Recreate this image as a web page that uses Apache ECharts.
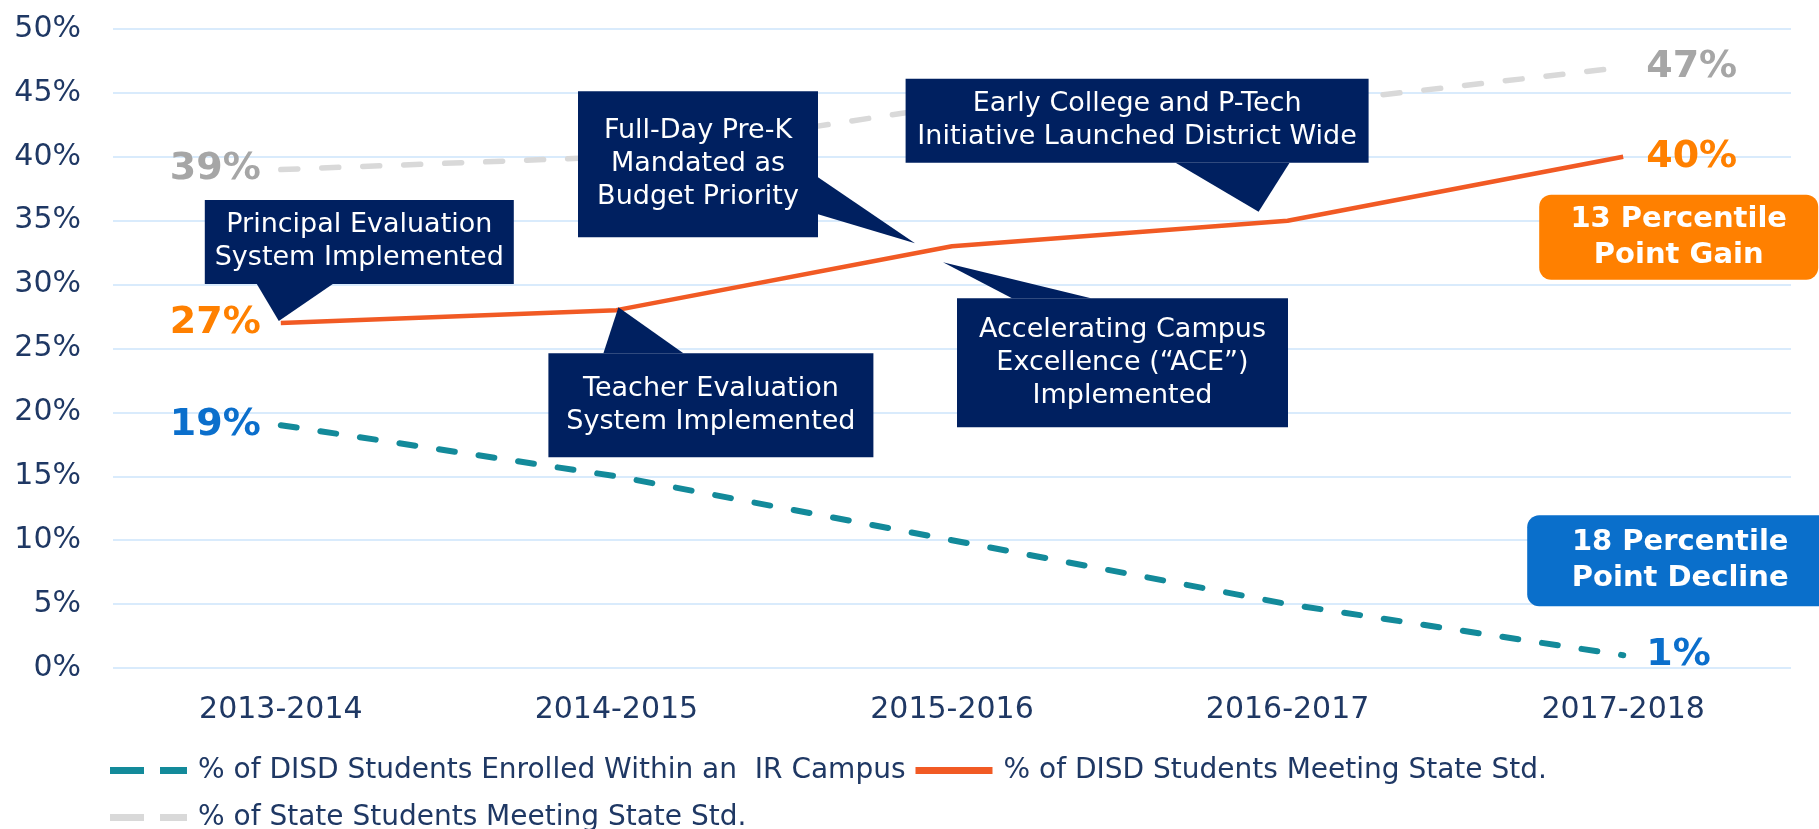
<!DOCTYPE html>
<html>
<head>
<meta charset="utf-8">
<script src="https://cdn.jsdelivr.net/npm/echarts@6/dist/echarts.min.js"></script>
<style>
html,body{margin:0;padding:0;background:#fff;}
#chart{width:1819px;height:829px;}
</style>
</head>
<body>
<div id="chart"></div>
<script>
// ---- data ----
const categories = ['2013-2014', '2014-2015', '2015-2016', '2016-2017', '2017-2018'];
const irCampus = [19, 15, 10, 5, 1];
const disdMeeting = [27, 28, 33, 35, 40];
const stateMeeting = [39, 40, 44, 44, 47];
const seriesNames = [
  '% of DISD Students Enrolled Within an  IR Campus',
  '% of DISD Students Meeting State Std.',
  '% of State Students Meeting State Std.'
];
const yTicks = { min: 0, max: 50, interval: 5 };

// annotation texts (anchored to the DISD Meeting series)
const calloutTexts = [
  'Principal Evaluation\nSystem Implemented',
  'Teacher Evaluation\nSystem Implemented',
  'Full-Day Pre-K\nMandated as\nBudget Priority',
  'Early College and P-Tech\nInitiative Launched District Wide',
  'Accelerating Campus\nExcellence (\u201CACE\u201D)\nImplemented'
];
const calloutAnchors = [0, 1, 2, 3, 2];
const gainText = '13 Percentile\nPoint Gain';
const declineText = '18 Percentile\nPoint Decline';

// ---- layout (pixel offsets relative to anchor point) ----
const calloutLayout = [
  { rect: [-76, -123, 309, 84], base: [[-24, -39], [52, -39]], tip: [-2, -2] },
  { rect: [-68, 43, 325, 104], base: [[-13, 43], [67, 43]], tip: [2, -3] },
  { rect: [-374, -155, 240, 146], base: [[-134, -69], [-134, -32]], tip: [-37, -3] },
  { rect: [-382, -142, 463, 84], base: [[-112, -58], [2, -58]], tip: [-29, -9] },
  { rect: [5, 52, 331, 129], base: [[60, 52], [139, 52]], tip: [-9, 16] }
];

const NAVY = '#002060';
const FONT = 'DejaVu Sans';
const dashIcon = 'path://M0,0h34v7h-34z M50,0h27v7h-27z';
const solidIcon = 'path://M0,0h77v7h-77z';
const legendIcons = [dashIcon, solidIcon, dashIcon];

function labeled(values) {
  const last = values.length - 1;
  return values.map((v, i) => {
    if (i === 0) return { value: v, label: { show: true, position: 'left', distance: 20 } };
    if (i === last) return { value: v, label: { show: true, position: 'right', distance: 23 } };
    return v;
  });
}
const dataLabel = (color) => ({
  show: false, formatter: '{c}%', color: color, fontSize: 38, fontWeight: 'bold', fontFamily: FONT
});

const chart = echarts.init(document.getElementById('chart'), null, { renderer: 'canvas' });
chart.setOption({
  animation: false,
  backgroundColor: '#ffffff',
  grid: { left: 113, right: 28, top: 29, bottom: 161, containLabel: false },
  legend: {
    left: 105, top: 747, width: 1560,
    itemWidth: 77, itemHeight: 7, itemGap: 10, symbolKeepAspect: false,
    textStyle: { fontSize: 28, color: '#1F3864', fontFamily: FONT, lineHeight: 37, padding: [0, 0, 0, 6] },
    data: seriesNames.map((n, i) => ({ name: n, icon: legendIcons[i] }))
  },
  xAxis: {
    type: 'category', data: categories, boundaryGap: true,
    axisLine: { show: false }, axisTick: { show: false },
    axisLabel: { fontSize: 30, color: '#1F3864', fontFamily: FONT, margin: 27 },
    splitLine: { show: false }
  },
  yAxis: {
    type: 'value', min: yTicks.min, max: yTicks.max, interval: yTicks.interval,
    axisLine: { show: false }, axisTick: { show: false },
    axisLabel: { fontSize: 30, color: '#1F3864', fontFamily: FONT, margin: 32, formatter: '{value}%' },
    splitLine: { lineStyle: { color: '#CDE5FB', width: 1.5 } }
  },
  series: [
    {
      name: seriesNames[0], type: 'line', data: labeled(irCampus), smooth: false,
      symbol: 'circle', symbolSize: 0, showSymbol: true, z: 3,
      lineStyle: { color: '#138A9A', width: 6, type: [16, 24], cap: 'round' },
      itemStyle: { color: '#138A9A' },
      label: dataLabel('#0B6FCC')
    },
    {
      name: seriesNames[1], type: 'line', data: labeled(disdMeeting), smooth: false,
      symbol: 'circle', symbolSize: 0, showSymbol: true, z: 4,
      lineStyle: { color: '#F15A24', width: 4.5, join: 'round' },
      itemStyle: { color: '#F15A24' },
      label: dataLabel('#FF8000')
    },
    {
      name: seriesNames[2], type: 'line', data: labeled(stateMeeting), smooth: false,
      symbol: 'circle', symbolSize: 0, showSymbol: true, z: 2,
      lineStyle: { color: '#D9D9D9', width: 5.5, type: [17, 24], cap: 'round' },
      itemStyle: { color: '#D9D9D9' },
      label: dataLabel('#A6A6A6')
    }
  ]
});

// ---- annotations anchored to data points ----
const graphics = [];
calloutTexts.forEach((txt, k) => {
  const idx = calloutAnchors[k];
  const p = chart.convertToPixel({ xAxisIndex: 0, yAxisIndex: 0 }, [idx, disdMeeting[idx]]);
  const L = calloutLayout[k];
  const rx = p[0] + L.rect[0], ry = p[1] + L.rect[1];
  graphics.push({
    type: 'polygon', z: 100,
    shape: { points: [[p[0] + L.base[0][0], p[1] + L.base[0][1]], [p[0] + L.base[1][0], p[1] + L.base[1][1]], [p[0] + L.tip[0], p[1] + L.tip[1]]] },
    style: { fill: NAVY }
  });
  graphics.push({
    type: 'rect', z: 101,
    shape: { x: rx, y: ry, width: L.rect[2], height: L.rect[3] },
    style: { fill: NAVY }
  });
  graphics.push({
    type: 'text', z: 102,
    style: {
      text: txt, x: rx + L.rect[2] / 2, y: ry + L.rect[3] / 2,
      align: 'center', verticalAlign: 'middle',
      fill: '#ffffff', fontSize: 27, lineHeight: 33, fontFamily: FONT
    }
  });
});

const pEnd = chart.convertToPixel({ xAxisIndex: 0, yAxisIndex: 0 }, [categories.length - 1, disdMeeting[disdMeeting.length - 1]]);
const tEnd = chart.convertToPixel({ xAxisIndex: 0, yAxisIndex: 0 }, [categories.length - 1, irCampus[irCampus.length - 1]]);
function badge(x, y, w, h, fill, txt) {
  graphics.push({ type: 'rect', z: 101, shape: { x, y, width: w, height: h, r: 12 }, style: { fill } });
  graphics.push({
    type: 'text', z: 102,
    style: {
      text: txt, x: x + w / 2, y: y + h / 2, align: 'center', verticalAlign: 'middle',
      fill: '#ffffff', fontSize: 29, fontWeight: 'bold', lineHeight: 36, fontFamily: FONT
    }
  });
}
badge(pEnd[0] - 84, pEnd[1] + 38, 279, 85, '#FF8000', gainText);
badge(tEnd[0] - 96, tEnd[1] - 140, 306, 91, '#0A6FCB', declineText);

chart.setOption({ graphic: graphics });
</script>
</body>
</html>
